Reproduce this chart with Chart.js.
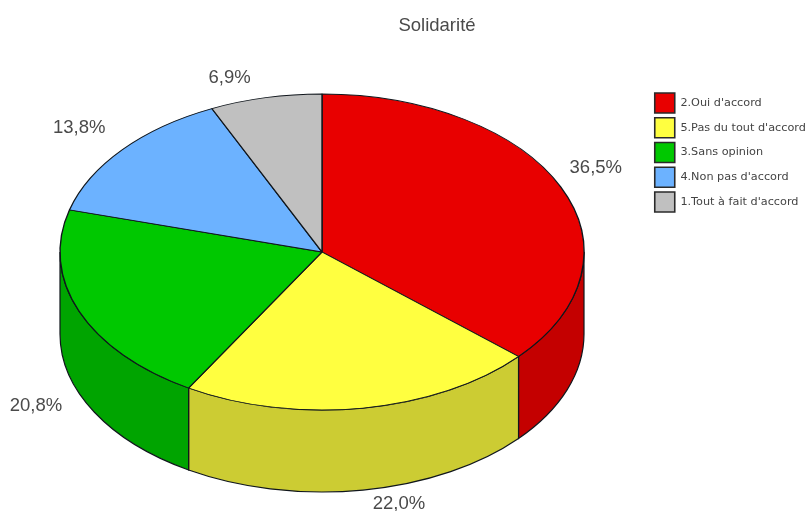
<!DOCTYPE html>
<html lang="fr">
<head>
<meta charset="utf-8">
<title>Solidarité</title>
<script src="https://cdn.jsdelivr.net/npm/chart.js@4"></script>
<style>
html,body{margin:0;padding:0;background:#fff}
canvas{display:block;filter:blur(0.4px)}
</style>
</head>
<body>
<canvas id="c" width="808" height="511"></canvas>
<script>
const titleText = "Solidarité";
const categories = ["2.Oui d'accord", "5.Pas du tout d'accord", "3.Sans opinion", "4.Non pas d'accord", "1.Tout à fait d'accord"];
const values = [36.5, 22.0, 20.8, 13.8, 6.9];
const topColors = ["#e80000", "#ffff40", "#00c800", "#6cb2ff", "#c0c0c0"];
const wallColors = ["#c40000", "#cccc33", "#00a400", "#5a94d4", "#a0a0a0"];
const labelNudgeX = [-1, 0, -3, -3, 4];
const labelNudgeY = [2, 1, 0, -1, 1];

const tilt = { cx: 322, cy: 252, rx: 262, ry: 158, depth: 82 };
const lineColor = "#10161c";
const labelColor = "#4a4a4a";
const labelFont = "18.5px 'Liberation Sans', Arial, sans-serif";

const pie3d = {
  id: "pie3d",
  afterLayout(chart) {
    const t = chart.titleBlock;
    t.left = 237; t.right = 637; t.top = 15;
    const l = chart.legend;
    const w = l.right - l.left, h = l.bottom - l.top;
    l.left = 650; l.right = l.left + w; l.top = 88.25; l.bottom = l.top + h;
  },
  beforeDatasetsDraw(chart) {
    const ctx = chart.ctx;
    const arcs = chart.getDatasetMeta(0).data;
    const { cx, cy, rx, ry, depth } = tilt;
    arcs.forEach((arc, i) => {
      const a = Math.max(arc.startAngle, 0), b = Math.min(arc.endAngle, Math.PI);
      if (b <= a) return;
      ctx.save();
      ctx.beginPath();
      ctx.ellipse(cx, cy, rx, ry, 0, a, b);
      ctx.ellipse(cx, cy + depth, rx, ry, 0, b, a, true);
      ctx.closePath();
      ctx.fillStyle = wallColors[i];
      ctx.fill();
      ctx.strokeStyle = lineColor;
      ctx.lineWidth = 1.2;
      ctx.stroke();
      ctx.restore();
    });
    const el = arcs[0];
    ctx.save();
    ctx.translate(cx, cy);
    ctx.scale(rx / el.outerRadius, ry / el.outerRadius);
    ctx.translate(-el.x, -el.y);
  },
  afterDatasetsDraw(chart) {
    const ctx = chart.ctx;
    ctx.restore();
    const { cx, cy, rx, ry, depth } = tilt;
    ctx.save();
    ctx.font = labelFont;
    ctx.fillStyle = labelColor;
    ctx.textAlign = "center";
    ctx.textBaseline = "middle";
    chart.getDatasetMeta(0).data.forEach((arc, i) => {
      const mid = (arc.startAngle + arc.endAngle) / 2;
      const x = cx + rx * Math.cos(mid), y = cy + ry * Math.sin(mid);
      const lower = Math.sin(mid) > 0 && Math.cos(mid) < 0.5;
      const dx = Math.cos(mid) >= 0 ? 36 : -40;
      const dy = lower ? depth + 13 : -21;
      ctx.fillText(values[i].toFixed(1).replace(".", ",") + "%", x + dx + labelNudgeX[i], y + dy + labelNudgeY[i]);
    });
    ctx.restore();
  }
};

new Chart(document.getElementById("c"), {
  type: "pie",
  plugins: [pie3d],
  data: {
    labels: categories,
    datasets: [{
      data: values,
      backgroundColor: topColors,
      borderColor: lineColor,
      borderWidth: 1.3
    }]
  },
  options: {
    responsive: false,
    animation: false,
    plugins: {
      tooltip: { enabled: false },
      title: {
        display: true,
        text: titleText,
        color: labelColor,
        font: { family: "'Liberation Sans', Arial, sans-serif", size: 18.5, weight: "normal" },
        padding: 0
      },
      legend: {
        position: "right",
        align: "start",
        labels: {
          boxWidth: 20,
          boxHeight: 20,
          padding: 4.75,
          color: "#444",
          font: { family: "'DejaVu Sans', sans-serif", size: 11.25 },
          generateLabels(chart) {
            return Chart.overrides.pie.plugins.legend.labels.generateLabels(chart).map(it => ({ ...it, lineWidth: 1.6, strokeStyle: "#2a2a2a" }));
          }
        }
      }
    }
  }
});
</script>
</body>
</html>
